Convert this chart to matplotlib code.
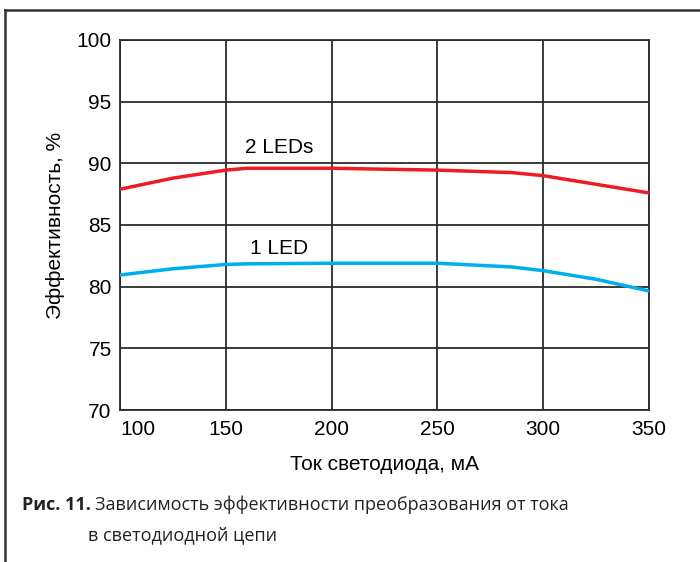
import matplotlib
import matplotlib.pyplot as plt
from matplotlib.lines import Line2D

matplotlib.rcParams['font.family'] = ['Liberation Sans', 'DejaVu Sans']

current_ma = [100, 125, 150, 160, 200, 250, 285, 300, 325, 350]
eff_2leds = [87.9, 88.8, 89.45, 89.6, 89.6, 89.45, 89.25, 89.0, 88.3, 87.6]
eff_1led = [80.95, 81.45, 81.8, 81.85, 81.9, 81.9, 81.6, 81.3, 80.6, 79.65]

x_ticks = [100, 150, 200, 250, 300, 350]
y_ticks = [70, 75, 80, 85, 90, 95, 100]

RED = '#ED1C24'
BLUE = '#00AEEF'
GRID = '#2b2b2b'

fig = plt.figure(figsize=(7, 5.62), dpi=100)
ax = fig.add_axes([120 / 700, 1 - 410 / 562, 529 / 700, 370 / 562])

ax.plot(current_ma, eff_2leds, color=RED, linewidth=2.5, zorder=5)
ax.plot(current_ma, eff_1led, color=BLUE, linewidth=2.5, zorder=5)

ax.text(175, 91.3, '2 LEDs', fontsize=15, ha='center', va='center')
ax.text(175, 83.1, '1 LED', fontsize=15, ha='center', va='center')

ax.set_xlim(100, 350)
ax.set_ylim(70, 100)
ax.set_xticks(x_ticks)
ax.set_yticks(y_ticks)
ax.tick_params(length=0, labelsize=15)
ax.tick_params(axis='x', pad=7)
ax.tick_params(axis='y', pad=6)
ax.get_xticklabels()[0].set_horizontalalignment('left')
ax.grid(True, color=GRID, linewidth=1.3)
for s in ax.spines.values():
    s.set_color(GRID)
    s.set_linewidth(1.3)

ax.set_xlabel('Ток светодиода, мА', fontsize=15, labelpad=12)
ax.set_ylabel('Эффективность, %', fontsize=15, labelpad=8)

# outer frame (left and top only)
fig.add_artist(Line2D([5 / 700, 5 / 700], [0, 1 - 10 / 562], color='#333333', linewidth=1.8))
fig.add_artist(Line2D([5 / 700, 1], [1 - 10 / 562, 1 - 10 / 562], color='#333333', linewidth=1.8))

# caption
cap_font = ['Open Sans', 'DejaVu Sans']
fig.text(22 / 700, 1 - 505 / 562, 'Рис. 11.', fontsize=13, fontweight='bold',
         family=cap_font, va='center', color='#222222')
fig.text(95 / 700, 1 - 505 / 562, 'Зависимость эффективности преобразования от тока',
         fontsize=13, family=cap_font, va='center', color='#222222')
fig.text(88 / 700, 1 - 535 / 562, 'в светодиодной цепи', fontsize=13,
         family=cap_font, va='center', color='#222222')

fig.savefig('out.png', dpi=100)
